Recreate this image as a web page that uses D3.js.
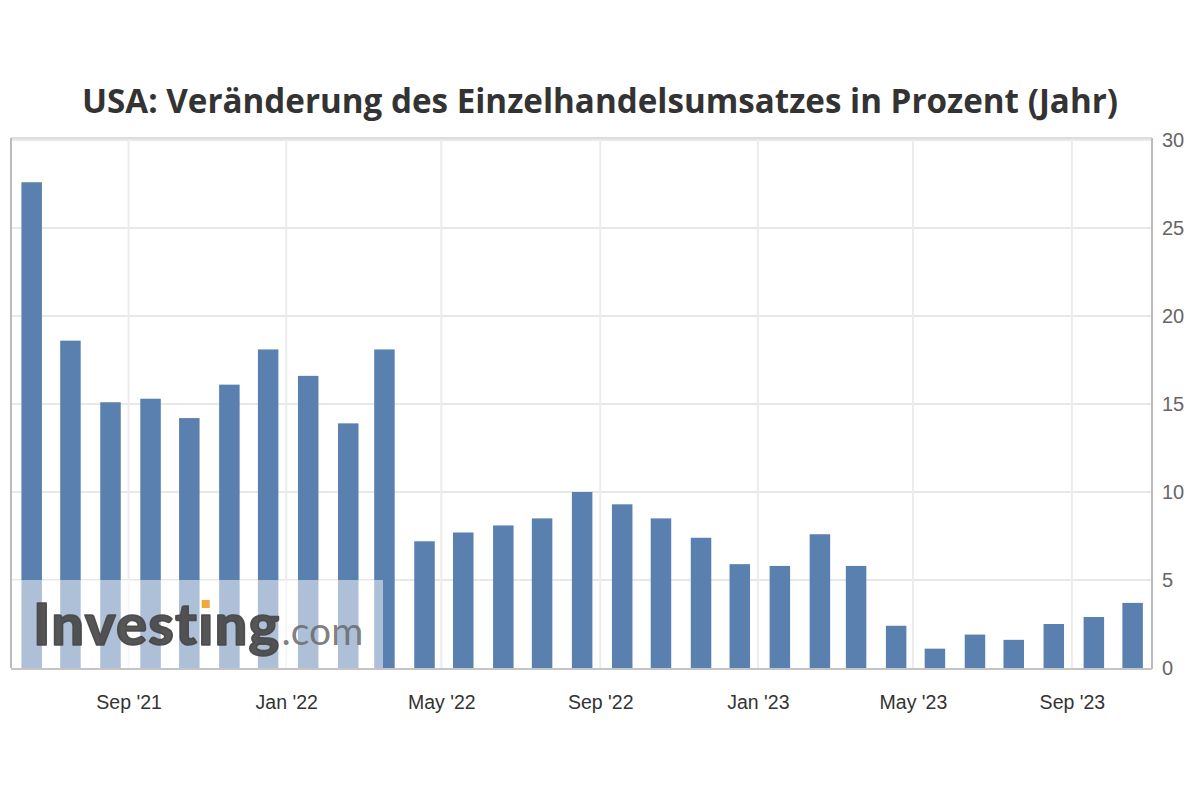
<!DOCTYPE html>
<html>
<head>
<meta charset="utf-8">
<script src="https://cdn.jsdelivr.net/npm/d3@7"></script>
<style>
  html, body { margin: 0; padding: 0; background: #ffffff; }
  svg { display: block; }
</style>
</head>
<body>
<svg id="chart" width="1200" height="800"></svg>
<script>
// ---- data ----
const titleText = "USA: Veränderung des Einzelhandelsumsatzes in Prozent (Jahr)";
const months = [
  "2021-06","2021-07","2021-08","2021-09","2021-10","2021-11","2021-12",
  "2022-01","2022-02","2022-03","2022-04","2022-05","2022-06","2022-07",
  "2022-08","2022-09","2022-10","2022-11","2022-12","2023-01","2023-02",
  "2023-03","2023-04","2023-05","2023-06","2023-07","2023-08","2023-09","2023-10"
];
const values = [
  27.6, 18.6, 15.1, 15.3, 14.2, 16.1, 18.1,
  16.6, 13.9, 18.1, 7.2, 7.7, 8.1, 8.5,
  10.0, 9.3, 8.5, 7.4, 5.9, 5.8, 7.6,
  5.8, 2.4, 1.1, 1.9, 1.6, 2.5, 2.9, 3.7
];
const yTicks = [0, 5, 10, 15, 20, 25, 30];
const xTickMonths = ["2021-09","2022-01","2022-05","2022-09","2023-01","2023-05","2023-09"];
const xTickLabels = ["Sep '21","Jan '22","May '22","Sep '22","Jan '23","May '23","Sep '23"];

// ---- layout ----
const svg = d3.select("#chart");
const pLeft = 11, pRight = 1152, pTop = 138, pBottom = 668;
const parseMonth = d3.timeParse("%Y-%m");
const barDate = m => { const d = parseMonth(m); return d3.timeDay.offset(d, 17); };

const x = d3.scaleTime()
  .domain([new Date(2021, 5, 2), new Date(2023, 10, 2)])
  .range([pLeft, pRight]);
const y = d3.scaleLinear().domain([0, 30]).range([pBottom, pTop + 2]);
const barW = 20.5;

// title
svg.append("text")
  .attr("x", 600).attr("y", 113)
  .attr("text-anchor", "middle")
  .attr("font-family", "'Open Sans', 'Noto Sans', sans-serif")
  .attr("font-weight", 700)
  .attr("font-size", 34)
  .attr("fill", "#333333")
  .attr("textLength", 1036)
  .attr("lengthAdjust", "spacingAndGlyphs")
  .text(titleText);

// gridlines
const g = svg.append("g");
g.selectAll("line.hgrid").data(yTicks.filter(t => t > 0)).join("line")
  .attr("x1", pLeft).attr("x2", pRight)
  .attr("y1", d => y(d)).attr("y2", d => y(d))
  .attr("stroke", "#e8e8e8").attr("stroke-width", 2);
g.selectAll("line.vgrid").data(xTickMonths).join("line")
  .attr("x1", d => x(parseMonth(d))).attr("x2", d => x(parseMonth(d)))
  .attr("y1", pTop).attr("y2", pBottom)
  .attr("stroke", "#ececec").attr("stroke-width", 2);

// frame top
svg.append("line").attr("x1", pLeft).attr("x2", pRight).attr("y1", pTop).attr("y2", pTop)
  .attr("stroke", "#dddddd").attr("stroke-width", 2);

// bars
svg.append("g").selectAll("rect").data(months).join("rect")
  .attr("x", (d) => x(barDate(d)) - barW / 2)
  .attr("width", barW)
  .attr("y", (d, i) => y(values[i]))
  .attr("height", (d, i) => y(0) - y(values[i]))
  .attr("fill", "#5a80b0");

// axes lines
svg.append("line").attr("x1", pLeft).attr("x2", pLeft).attr("y1", pTop).attr("y2", pBottom)
  .attr("stroke", "#bbbbbb").attr("stroke-width", 2);
svg.append("line").attr("x1", pRight).attr("x2", pRight).attr("y1", pTop).attr("y2", pBottom + 1)
  .attr("stroke", "#bbbbbb").attr("stroke-width", 2);
svg.append("line").attr("x1", pLeft).attr("x2", pRight).attr("y1", pBottom + 1).attr("y2", pBottom + 1)
  .attr("stroke", "#c4c4c4").attr("stroke-width", 2);

// y axis (right)
const yAxis = d3.axisRight(y).tickValues(yTicks).tickSize(0).tickPadding(10);
const ya = svg.append("g").attr("transform", `translate(${pRight},0)`).call(yAxis);
ya.select(".domain").remove();
ya.selectAll("text")
  .attr("font-family", "'Liberation Sans', Arial, sans-serif")
  .attr("font-size", 20).attr("fill", "#666666");

// x axis
const xAxis = d3.axisBottom(x)
  .tickValues(xTickMonths.map(parseMonth))
  .tickFormat((d, i) => xTickLabels[i])
  .tickSize(0).tickPadding(27);
const xa = svg.append("g").attr("transform", `translate(0,${pBottom})`).call(xAxis);
xa.select(".domain").remove();
xa.selectAll("text")
  .attr("font-family", "'Liberation Sans', Arial, sans-serif")
  .attr("font-size", 19.5).attr("fill", "#333333");

// watermark
svg.append("rect").attr("x", pLeft + 1).attr("y", y(5)).attr("width", 371)
  .attr("height", pBottom - y(5)).attr("fill", "#ffffff").attr("opacity", 0.5);

const logo = svg.append("g");
const lf = "'Lato', 'Open Sans', 'Liberation Sans', sans-serif";
const logoStyle = s => s.attr("font-family", lf).attr("font-weight", 900).attr("font-size", 58)
  .attr("fill", "#484848").attr("fill-opacity", 0.92)
  .attr("stroke", "#484848").attr("stroke-opacity", 0.92).attr("stroke-width", 1.6)
  .attr("stroke-linejoin", "round");
const ls = 1.2;
const t1 = logo.append("text").attr("x", 33).attr("y", 645).attr("letter-spacing", ls)
  .call(logoStyle).text("Invest");
let cx = 33 + t1.node().getComputedTextLength();
const t2 = logo.append("text").attr("x", cx).attr("y", 645).call(logoStyle).text("ı");
const iw = t2.node().getComputedTextLength();
logo.append("rect").attr("x", cx + iw / 2 - 4).attr("y", 600).attr("width", 8).attr("height", 8)
  .attr("fill", "#f2a93b");
cx += iw + ls;
const t3 = logo.append("text").attr("x", cx).attr("y", 645).attr("letter-spacing", ls)
  .call(logoStyle).text("ng");
cx += t3.node().getComputedTextLength() + 1;
logo.append("text").attr("x", cx).attr("y", 645)
  .attr("font-family", lf).attr("font-weight", 400)
  .attr("font-size", 39).attr("fill", "#6a6a6a").attr("fill-opacity", 0.85).text(".com");
</script>
</body>
</html>
